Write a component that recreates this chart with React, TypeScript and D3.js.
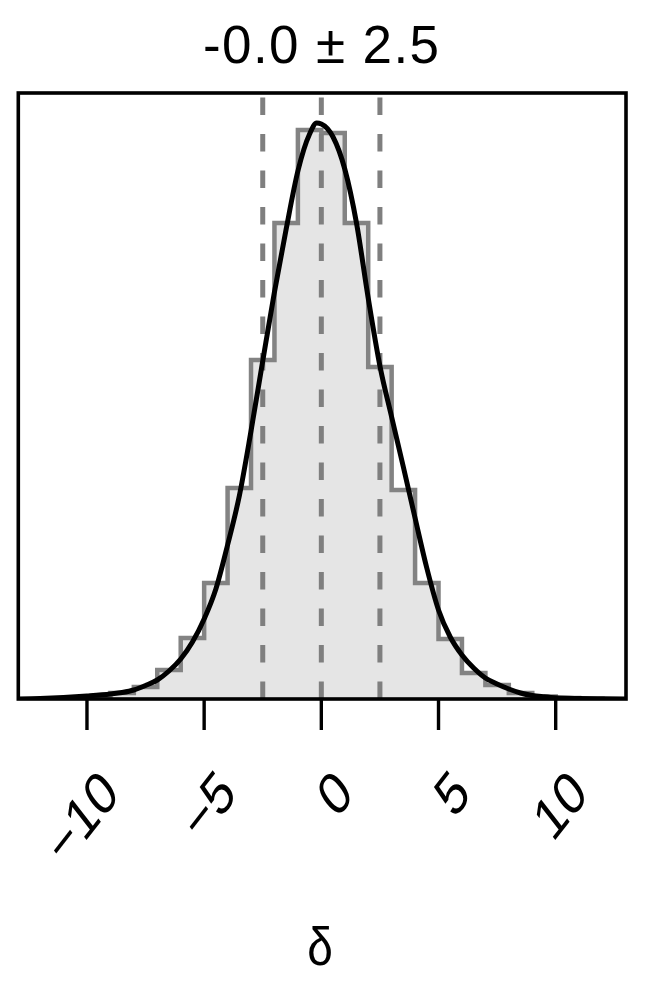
import React from "react";
import * as d3 from "d3";

// ---- data ----
const title = "-0.0 ± 2.5";
const xLabel = "δ";
const tickValues = [-10, -5, 0, 5, 10];
const tickLabels = ["−10", "−5", "0", "5", "10"];
const quantiles = [-2.5, 0, 2.5];

// histogram: left bin edges (width 1) and relative counts
const binLeft = [-12, -11, -10, -9, -8, -7, -6, -5, -4, -3, -2, -1, 0, 1, 2, 3, 4, 5, 6, 7, 8, 9, 10, 11];
const binCounts = [0.3, 1, 2.5, 6, 12, 29, 61, 116, 211, 339, 476, 569, 566, 476, 332, 209, 116, 60, 26, 14, 6, 2.5, 1, 0.3];
const binWidth = 1;

// smooth density curve (same relative units)
const curveX = [-13, -12, -11, -10, -9, -8.5, -8, -7.5, -7, -6.5, -6, -5.5, -5, -4.5, -4, -3.5, -3, -2.5, -2, -1.5, -1, -0.5, -0.2, 0, 0.5, 1, 1.5, 2, 2.5, 3, 3.5, 4, 4.5, 5, 5.5, 6, 6.5, 7, 7.5, 8, 8.5, 9, 9.5, 10, 11, 12, 13];
const curveY = [0, 0.5, 1.5, 3, 5, 6.5, 9, 13.5, 19, 28, 40, 57, 80, 110, 154, 203, 268, 338, 407, 470, 528, 565, 576, 575, 562, 530, 476, 401, 333, 282, 232, 181, 131, 89, 62, 44, 31, 21, 15, 10, 6, 3.5, 2.2, 1.2, 0.5, 0.2, 0];

const W = 667;
const H = 1000;
const frame = { left: 18.3, right: 626, top: 93, bottom: 699 };

export default function App() {
  const x = d3.scaleLinear().domain([-12.93, 13.0]).range([frame.left, frame.right]);
  const y = d3.scaleLinear().domain([0, 606]).range([frame.bottom, frame.top]);

  const stepPts: [number, number][] = [];
  stepPts.push([binLeft[0], 0]);
  binLeft.forEach((l, i) => {
    stepPts.push([l, binCounts[i]]);
    stepPts.push([l + binWidth, binCounts[i]]);
  });
  stepPts.push([binLeft[binLeft.length - 1] + binWidth, 0]);

  const stepLine = d3
    .line<[number, number]>()
    .x((d) => x(d[0]))
    .y((d) => y(d[1]));
  const stepArea = d3
    .area<[number, number]>()
    .x((d) => x(d[0]))
    .y0(y(0))
    .y1((d) => y(d[1]));

  const curvePts: [number, number][] = curveX.map((v, i) => [v, curveY[i]]);
  const densLine = d3
    .line<[number, number]>()
    .x((d) => x(d[0]))
    .y((d) => y(d[1]))
    .curve(d3.curveMonotoneX);

  const font = "'Liberation Sans', Arial, Helvetica, sans-serif";

  return (
    <svg
      width={W}
      height={H}
      style={{ position: "absolute", left: 0, top: 0, background: "#fff" }}
    >
      <defs>
        <clipPath id="plotclip">
          <rect x={frame.left} y={frame.top} width={frame.right - frame.left} height={frame.bottom - frame.top} />
        </clipPath>
      </defs>
      <g clipPath="url(#plotclip)">
        <path d={stepArea(stepPts) || ""} fill="#e5e5e5" stroke="none" />
        <path d={stepLine(stepPts) || ""} fill="none" stroke="#838383" strokeWidth={4.5} />
        {quantiles.map((q, i) => (
          <line
            key={i}
            x1={x(q)}
            x2={x(q)}
            y1={frame.bottom}
            y2={frame.top}
            stroke="#7f7f7f"
            strokeWidth={5}
            strokeDasharray="17.5,19"
          />
        ))}
        <path d={densLine(curvePts) || ""} fill="none" stroke="#000" strokeWidth={5} />
      </g>
      <rect
        x={frame.left}
        y={frame.top}
        width={frame.right - frame.left}
        height={frame.bottom - frame.top}
        fill="none"
        stroke="#000"
        strokeWidth={3.6}
      />
      {tickValues.map((v, i) => (
        <g key={i}>
          <line x1={x(v)} x2={x(v)} y1={frame.bottom} y2={frame.bottom + 31} stroke="#000" strokeWidth={3.4} />
          <g transform={`translate(${x(v) + 34},796) scale(1,1.28) rotate(-45)`}>
            <text textAnchor="end" fontSize={47} fontFamily={font} fill="#000">
              {tickLabels[i]}
            </text>
          </g>
        </g>
      ))}
      <text
        x={321}
        y={63}
        textAnchor="middle"
        fontSize={53}
        fontFamily={font}
        textLength={236}
        lengthAdjust="spacing"
        fill="#000"
      >
        {title}
      </text>
      <g transform="translate(320,965) scale(1,1.18)">
        <text textAnchor="middle" fontSize={46} fontFamily={font} fill="#000">
          {xLabel}
        </text>
      </g>
    </svg>
  );
}
